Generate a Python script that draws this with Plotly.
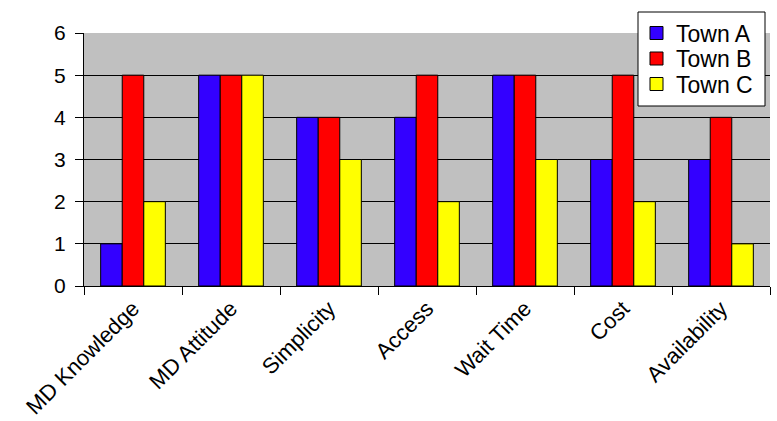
import plotly.graph_objects as go

categories = ["MD Knowledge", "MD Attitude", "Simplicity", "Access",
              "Wait Time", "Cost", "Availability"]
town_a = [1, 5, 4, 4, 5, 3, 3]
town_b = [5, 5, 4, 5, 5, 5, 4]
town_c = [2, 5, 3, 2, 3, 2, 1]
y_ticks = [0, 1, 2, 3, 4, 5, 6]

series_names = ["Town A", "Town B", "Town C"]
series_values = [town_a, town_b, town_c]
series_colors = ["#3300FF", "#FF0000", "#FFFF00"]

W, H = 777, 421
M_L, M_R, M_T, M_B = 84, 7, 33, 135
PLOT_W = W - M_L - M_R
PLOT_H = H - M_T - M_B


def px_x(px):
    return (px - M_L) / PLOT_W


def px_y(py):
    return (H - M_B - py) / PLOT_H


fig = go.Figure()
for name, vals, color in zip(series_names, series_values, series_colors):
    fig.add_trace(go.Bar(
        x=categories, y=vals, name=name,
        marker=dict(color=color, line=dict(color="black", width=1)),
    ))

font = "Liberation Sans, Arial, sans-serif"

# legend box drawn in the upper right, overlapping the plot area
shapes = [dict(type="rect", xref="paper", yref="paper",
               x0=px_x(638), x1=px_x(765), y0=px_y(106), y1=px_y(12),
               fillcolor="white", line=dict(color="black", width=1),
               layer="above")]
annotations = []
row_centers = [33, 58.5, 84]
for name, color, cy in zip(series_names, series_colors, row_centers):
    shapes.append(dict(type="rect", xref="paper", yref="paper",
                       x0=px_x(650), x1=px_x(663),
                       y0=px_y(cy + 6.5), y1=px_y(cy - 6.5),
                       fillcolor=color, line=dict(color="black", width=1),
                       layer="above"))
    annotations.append(dict(xref="paper", yref="paper",
                            x=px_x(674), y=px_y(cy + 1),
                            xanchor="left", yanchor="middle",
                            text=name, showarrow=False,
                            font=dict(family=font, size=23, color="black")))

fig.update_layout(
    width=W, height=H,
    margin=dict(l=M_L, r=M_R, t=M_T, b=M_B, autoexpand=False),
    paper_bgcolor="white",
    plot_bgcolor="#C0C0C0",
    barmode="group",
    bargap=0.34,
    bargroupgap=0,
    font=dict(family=font, size=21, color="black"),
    showlegend=False,
    shapes=shapes,
    annotations=annotations,
    xaxis=dict(
        tickangle=-45, tickson="boundaries", ticks="outside",
        ticklen=8, tickcolor="black", showline=True, linecolor="black",
        linewidth=1, showgrid=False, mirror=False, automargin=False,
        tickfont=dict(family=font, size=22),
    ),
    yaxis=dict(
        range=[0, 6], tickvals=y_ticks, ticks="outside", ticklen=8,
        tickcolor="black", showline=True, linecolor="black", linewidth=1,
        showgrid=True, gridcolor="black", gridwidth=1, zeroline=False,
        automargin=False, ticklabelstandoff=5,
        tickfont=dict(family=font, size=21),
    ),
)

fig.write_html("out.html")
